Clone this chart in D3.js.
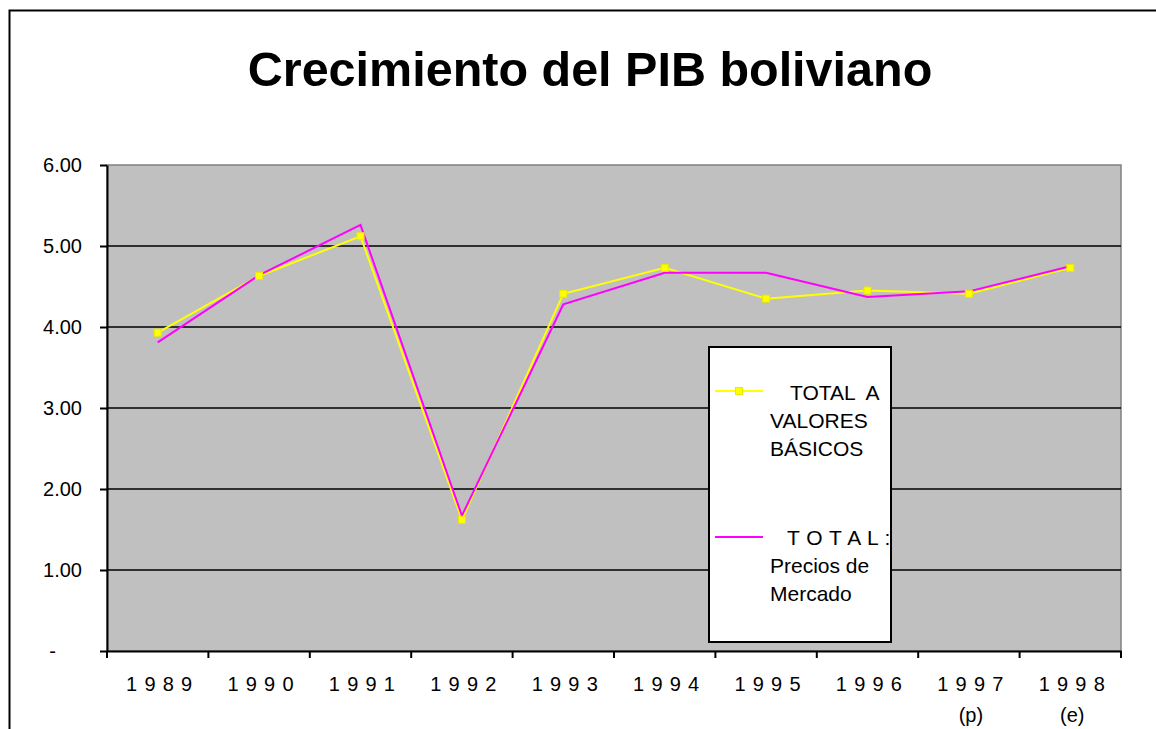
<!DOCTYPE html>
<html>
<head>
<meta charset="utf-8">
<script src="https://cdn.jsdelivr.net/npm/d3@7"></script>
<style>
	body { margin: 0; background: #fff; }
	svg { display: block; font-family: Arial, 'Liberation Sans', sans-serif; }
</style>
</head>
<body>
<div id="chart"></div>
<script>
const years = ['1989', '1990', '1991', '1992', '1993', '1994', '1995', '1996', '1997', '1998'];
const yearNotes = ['', '', '', '', '', '', '', '', '(p)', '(e)'];
const valoresBasicos = [3.93, 4.63, 5.12, 1.62, 4.41, 4.73, 4.35, 4.45, 4.41, 4.73];
const preciosMercado = [3.81, 4.64, 5.26, 1.67, 4.28, 4.67, 4.67, 4.37, 4.44, 4.75];
const yTicks = [0, 1, 2, 3, 4, 5, 6];
const legendNames = [['TOTAL  A', 'VALORES', 'BÁSICOS'], ['T O T A L :', 'Precios de', 'Mercado']];

const width = 1156, height = 729;
const margin = { left: 107, top: 165, right: 35, bottom: 78 };
const plotW = width - margin.left - margin.right;
const plotH = height - margin.top - margin.bottom;

let svg = d3.select('#chart').append('svg')
	.attr('width', width)
	.attr('height', height);

// chart frame (only top and left edges fall inside the picture)
svg.append('rect')
	.attr('x', 9.5)
	.attr('y', 10.5)
	.attr('width', width + 20)
	.attr('height', height + 20)
	.attr('fill', '#fff')
	.attr('stroke', '#000')
	.attr('stroke-width', 2);

svg.append('text')
	.attr('x', 590)
	.attr('y', 86)
	.attr('text-anchor', 'middle')
	.attr('font-size', '48.5px')
	.attr('font-weight', 'bold')
	.text('Crecimiento del PIB boliviano');

let xScale = d3.scaleBand().domain(years).range([0, plotW]);
let yScale = d3.scaleLinear().domain([0, 6]).range([plotH, 0]);

let g = svg.append('g')
	.attr('transform', `translate(${margin.left}, ${margin.top})`);

g.append('rect')
	.attr('width', plotW)
	.attr('height', plotH)
	.attr('fill', '#c0c0c0')
	.attr('stroke', '#808080')
	.attr('stroke-width', 1.5);

// gridlines
g.append('g')
	.selectAll('line')
	.data(yTicks.filter(d => d > 0 && d < 6))
	.enter().append('line')
	.attr('x1', 0)
	.attr('x2', plotW)
	.attr('y1', d => yScale(d))
	.attr('y2', d => yScale(d))
	.attr('stroke', '#000')
	.attr('stroke-width', 1.5);

// y axis
let axisY = g.append('g')
	.call(d3.axisLeft(yScale)
		.tickValues(yTicks)
		.tickSize(7)
		.tickSizeOuter(0)
		.tickPadding(18)
		.tickFormat(d => d === 0 ? '-' : d3.format('.2f')(d)));
axisY.select('.domain').attr('stroke', '#000').attr('stroke-width', 2);
axisY.selectAll('.tick line').attr('stroke', '#000').attr('stroke-width', 2);
axisY.selectAll('.tick text')
	.attr('font-size', '20px')
	.attr('font-family', 'Arial, Liberation Sans, sans-serif')
	.attr('fill', '#000')
	.attr('dx', d => d === 0 ? -26 : 0);

// x axis: labels at band centres, ticks at band edges
let axisX = g.append('g')
	.attr('transform', `translate(0, ${plotH})`)
	.call(d3.axisBottom(xScale).tickSize(0).tickSizeOuter(0).tickPadding(26));
axisX.select('.domain').attr('stroke', '#000').attr('stroke-width', 2);
axisX.selectAll('.tick text')
	.attr('font-size', '20px')
	.attr('font-family', 'Arial, Liberation Sans, sans-serif')
	.attr('fill', '#000')
	.style('letter-spacing', '7.2px')
	.attr('dx', 5);
axisX.selectAll('.tick')
	.append('text')
	.attr('y', 71)
	.attr('fill', '#000')
	.attr('font-size', '20px')
	.attr('font-family', 'Arial, Liberation Sans, sans-serif')
	.attr('text-anchor', 'middle')
	.attr('dx', 2)
	.text((d, i) => yearNotes[i]);

let edges = years.map(d => xScale(d)).concat([xScale.range()[1]]);
axisX.selectAll('.edge')
	.data(edges)
	.enter().append('line')
	.attr('class', 'edge')
	.attr('x1', d => d)
	.attr('x2', d => d)
	.attr('y1', 0)
	.attr('y2', 7)
	.attr('stroke', '#000')
	.attr('stroke-width', 2);

// series
let line = d3.line()
	.x((d, i) => xScale(years[i]) + xScale.bandwidth() / 2)
	.y(d => yScale(d));

g.append('path')
	.datum(valoresBasicos)
	.attr('d', line)
	.attr('fill', 'none')
	.attr('stroke', '#ffff00')
	.attr('stroke-width', 2);

g.append('path')
	.datum(preciosMercado)
	.attr('d', line)
	.attr('fill', 'none')
	.attr('stroke', '#ff00ff')
	.attr('stroke-width', 2);

g.selectAll('.marker')
	.data(valoresBasicos)
	.enter().append('rect')
	.attr('class', 'marker')
	.attr('x', (d, i) => xScale(years[i]) + xScale.bandwidth() / 2 - 3.5)
	.attr('y', d => yScale(d) - 3.5)
	.attr('width', 7)
	.attr('height', 7)
	.attr('fill', '#ffff00')
	.attr('stroke', '#e8e800')
	.attr('stroke-width', 1);

// legend
let legend = svg.append('g');
legend.append('rect')
	.attr('x', 709)
	.attr('y', 347)
	.attr('width', 182)
	.attr('height', 295)
	.attr('fill', '#fff')
	.attr('stroke', '#000')
	.attr('stroke-width', 2);

const legendItems = [
	{ color: '#ffff00', marker: true, y: 391, top: 400, firstX: 790, spacing: 0 },
	{ color: '#ff00ff', marker: false, y: 537, top: 545, firstX: 787, spacing: 0.5 }
];

legendItems.forEach((item, k) => {
	legend.append('line')
		.attr('x1', 715)
		.attr('x2', 763)
		.attr('y1', item.y)
		.attr('y2', item.y)
		.attr('stroke', item.color)
		.attr('stroke-width', 2);
	if (item.marker) {
		legend.append('rect')
			.attr('x', 735.5)
			.attr('y', item.y - 3.5)
			.attr('width', 7)
			.attr('height', 7)
			.attr('fill', '#ffff00')
			.attr('stroke', '#e8e800');
	}
	let text = legend.append('text')
		.attr('font-size', '21px')
		.attr('fill', '#000')
		.style('white-space', 'pre');
	legendNames[k].forEach((l, i) => {
		text.append('tspan')
			.attr('x', i === 0 ? item.firstX : 770)
			.attr('y', item.top + i * 28)
			.style('letter-spacing', i === 0 ? item.spacing + 'px' : null)
			.text(l);
	});
});
</script>
</body>
</html>
